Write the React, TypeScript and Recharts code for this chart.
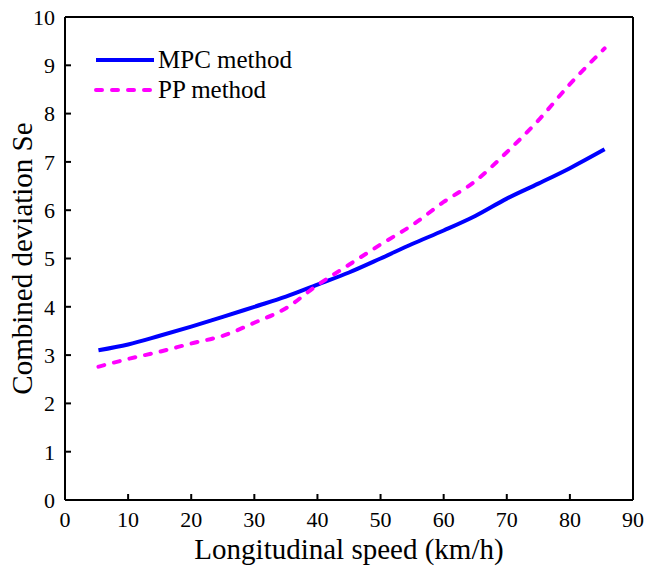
import React from 'react';
import { LineChart, Line, XAxis, YAxis, Legend, Label } from 'recharts';

const speeds = [5.3, 10, 15, 20, 25, 30, 35, 40, 45, 50, 55, 60, 65, 70, 75, 80, 85.5];
const mpcValues = [3.1, 3.22, 3.4, 3.59, 3.79, 4.0, 4.21, 4.46, 4.71, 5.0, 5.3, 5.58, 5.88, 6.24, 6.55, 6.87, 7.26];
const ppValues = [2.76, 2.92, 3.07, 3.24, 3.4, 3.67, 3.97, 4.45, 4.87, 5.29, 5.69, 6.17, 6.6, 7.2, 7.86, 8.61, 9.35];
const xTicks = [0, 10, 20, 30, 40, 50, 60, 70, 80, 90];
const yTicks = [0, 1, 2, 3, 4, 5, 6, 7, 8, 9, 10];
const seriesNames = ['MPC method', 'PP method'];
const xTitle = 'Longitudinal speed (km/h)';
const yTitle = 'Combined deviation Se';

const data = speeds.map((s, i) => ({ speed: s, mpc: mpcValues[i], pp: ppValues[i] }));

const FONT = '"Liberation Serif", "Times New Roman", serif';

const LegendContent = (props: any) => {
  const payload = props.payload || [];
  return (
    <div style={{ fontFamily: FONT, fontSize: 25, color: '#000' }}>
      {payload.map((p: any, i: number) => (
        <div key={i} style={{ display: 'flex', alignItems: 'center', height: 30 }}>
          <svg width={62} height={8} style={{ display: 'block' }}>
            <line
              x1={2}
              y1={4}
              x2={60}
              y2={4}
              stroke={p.color}
              strokeWidth={4}
              strokeDasharray={p.payload && p.payload.strokeDasharray ? '6 10' : undefined}
              strokeLinecap={p.payload && p.payload.strokeDasharray ? 'round' : 'butt'}
            />
          </svg>
          <span style={{ marginLeft: 2, lineHeight: '30px', whiteSpace: 'nowrap' }}>{p.value}</span>
        </div>
      ))}
    </div>
  );
};

const tickText = { fill: '#000', fontSize: 22, fontFamily: FONT };
const axisLineStyle = { stroke: '#000', strokeWidth: 2 };
const tickLineStyle = { stroke: '#000', strokeWidth: 2 };

export default function App() {
  return (
    <div style={{ position: 'absolute', left: 0, top: 0, background: '#fff', fontFamily: FONT }}>
      <LineChart width={646} height={569} data={data} margin={{ top: 16, right: 12, bottom: 0, left: 0 }}>
        <XAxis
          xAxisId="b"
          dataKey="speed"
          type="number"
          domain={[0, 90]}
          ticks={xTicks}
          interval={0}
          height={69}
          tickSize={-6}
          tickMargin={17}
          tick={tickText}
          tickLine={tickLineStyle}
          axisLine={axisLineStyle}
        >
          <Label
            content={(p: any) => {
              const vb = p.viewBox;
              const cx = vb.x + vb.width / 2;
              const cy = vb.y + 49;
              return (
                <text x={cx} y={cy} textAnchor="middle" dominantBaseline="central" fontFamily={FONT} fontSize={29} fill="#000">
                  {xTitle}
                </text>
              );
            }}
          />
        </XAxis>
        <XAxis
          xAxisId="t"
          dataKey="speed"
          type="number"
          orientation="top"
          domain={[0, 90]}
          ticks={xTicks}
          interval={0}
          height={1}
          tickSize={-6}
          tick={false}
          tickLine={tickLineStyle}
          axisLine={axisLineStyle}
        />
        <YAxis
          yAxisId="l"
          type="number"
          domain={[0, 10]}
          ticks={yTicks}
          interval={0}
          width={65}
          tickSize={-6}
          tickMargin={16}
          tick={tickText}
          tickLine={tickLineStyle}
          axisLine={axisLineStyle}
        >
          <Label
            content={(p: any) => {
              const vb = p.viewBox;
              const cx = vb.x + 22;
              const cy = vb.y + vb.height / 2;
              return (
                <text
                  x={cx}
                  y={cy}
                  transform={`rotate(-90 ${cx} ${cy})`}
                  textAnchor="middle"
                  dominantBaseline="central"
                  fontFamily={FONT}
                  fontSize={29}
                  fill="#000"
                >
                  {yTitle}
                </text>
              );
            }}
          />
        </YAxis>
        <YAxis
          yAxisId="r"
          type="number"
          orientation="right"
          domain={[0, 10]}
          ticks={yTicks}
          interval={0}
          width={1}
          tickSize={-6}
          tick={false}
          tickLine={tickLineStyle}
          axisLine={axisLineStyle}
        />
        <Legend
          layout="vertical"
          align="center"
          verticalAlign="middle"
          content={<LegendContent />}
          wrapperStyle={{ position: 'absolute', left: 94, top: 45, width: 'auto', height: 'auto' }}
        />
        <Line
          xAxisId="b"
          yAxisId="l"
          type="monotone"
          dataKey="mpc"
          name={seriesNames[0]}
          stroke="#0000ff"
          strokeWidth={4}
          dot={false}
          isAnimationActive={false}
        />
        <Line
          xAxisId="b"
          yAxisId="l"
          type="monotone"
          dataKey="pp"
          name={seriesNames[1]}
          stroke="#ff00ff"
          strokeWidth={4}
          strokeDasharray="6 10"
          strokeLinecap="round"
          dot={false}
          isAnimationActive={false}
        />
      </LineChart>
    </div>
  );
}
